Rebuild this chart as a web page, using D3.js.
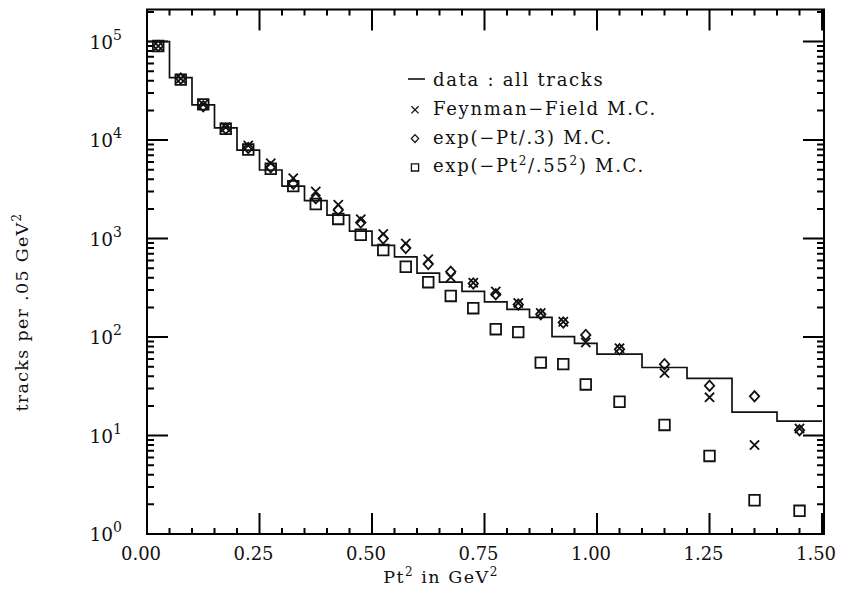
<!DOCTYPE html>
<html lang="en">
<head>
<meta charset="UTF-8">
<title>Pt2 spectrum</title>
<script src="https://d3js.org/d3.v7.min.js"></script>
<style>
body { margin: 0; background: #fff; }
text { font-family: 'DejaVu Serif', serif; fill: #111; }
</style>
</head>
<body>
<svg class="container"></svg>
<script>
// ---- data ----
// bin edges in Pt^2 (GeV^2): .05 wide up to 1.0, .1 wide after that
const binEdges = [0.00, 0.05, 0.10, 0.15, 0.20, 0.25, 0.30, 0.35, 0.40, 0.45, 0.50,
                  0.55, 0.60, 0.65, 0.70, 0.75, 0.80, 0.85, 0.90, 0.95, 1.00,
                  1.10, 1.20, 1.30, 1.40, 1.50];
const binCenters = [0.025, 0.075, 0.125, 0.175, 0.225, 0.275, 0.325, 0.375, 0.425, 0.475,
                    0.525, 0.575, 0.625, 0.675, 0.725, 0.775, 0.825, 0.875, 0.925, 0.975,
                    1.05, 1.15, 1.25, 1.35, 1.45];
// histogram: data, all tracks
const dataTracks = [1.0e5, 4.3e4, 2.27e4, 1.33e4, 7.9e3, 4.96e3, 3.4e3, 2.42e3, 1.73e3, 1190,
                    850, 650, 445, 360, 290, 227, 191, 158, 101, 86,
                    67, 49, 38, 17.3, 14.0];
// x markers
const feynmanMC = [9.0e4, 4.2e4, 2.3e4, 1.35e4, 8.8e3, 5.8e3, 4.1e3, 3.0e3, 2.2e3, 1570,
                   1110, 890, 615, 405, 355, 290, 222, 175, 143, 88,
                   77, 43, 24.4, 8.0, 11.8];
// diamonds
const expPtMC = [9.0e4, 4.2e4, 2.2e4, 1.3e4, 8.3e3, 5.3e3, 3.6e3, 2.56e3, 1.95e3, 1450,
                 1000, 800, 550, 460, 350, 272, 214, 170, 140, 105,
                 75, 53, 32, 25, 11.3];
// squares
const expPt2MC = [9.0e4, 4.1e4, 2.3e4, 1.3e4, 8.0e3, 5.1e3, 3.4e3, 2.24e3, 1.58e3, 1090,
                  764, 517, 360, 261, 196, 120, 112, 55, 53, 33,
                  22, 12.8, 6.2, 2.2, 1.72];

const xTickValues = [0, 0.25, 0.5, 0.75, 1.0, 1.25, 1.5];
const xTickLabels = ['0.00', '0.25', '0.50', '0.75', '1.00', '1.25', '1.50'];
const yTickValues = [1, 10, 100, 1000, 10000, 100000];
const yTickExponents = ['0', '1', '2', '3', '4', '5'];
const legendLabels = ['data : all tracks', 'Feynman\u2212Field M.C.',
                      'exp(\u2212Pt/.3) M.C.', 'exp(\u2212Pt^2/.55^2) M.C.'];

// ---- layout ----
const plotLeft = 147, plotRight = 824, plotTop = 9.5, plotBottom = 534;

const svg = d3.select('svg.container')
    .attr('width', 842)
    .attr('height', 590);

const x = d3.scaleLinear().domain([0, 1.5044]).range([plotLeft, plotRight]);
const y = d3.scaleLog().domain([1, Math.pow(10, 5.325)]).range([plotBottom, plotTop]);

// write "a^b" strings with real superscripts
function richText(sel, str, supSize, shift) {
    let raised = false;
    str.split(/\^(\S)/).forEach((part, i) => {
        if (!part) return;
        let t = sel.append('tspan').text(part);
        if (i % 2) {
            t.attr('font-size', supSize).attr('dy', -shift);
            raised = true;
        } else if (raised) {
            t.attr('dy', shift);
            raised = false;
        }
    });
}

// frame first
svg.append('rect')
    .attr('x', plotLeft).attr('y', plotTop)
    .attr('width', plotRight - plotLeft).attr('height', plotBottom - plotTop)
    .attr('fill', 'none').attr('stroke', '#000').attr('stroke-width', 2);

// ---- ticks, all pointing inward from the frame ----
const xMinor = d3.range(0, 1.5001, 0.05).filter(v => Math.abs(v / 0.25 - Math.round(v / 0.25)) > 1e-6);
const yMinor = y.ticks().filter(v => !yTickValues.includes(v));

function xTickPath(values, len) {
    // bottom edge pointing up, top edge pointing down
    return values.map(d => {
        let px = x(d).toFixed(1);
        return `M${px},${plotBottom}V${plotBottom - len}M${px},${plotTop}V${plotTop + len}`;
    }).join('');
}
function yTickPath(values, len) {
    // left edge pointing right, right edge pointing left
    return values.map(d => {
        let py = y(d).toFixed(1);
        return `M${plotLeft},${py}H${plotLeft + len}M${plotRight},${py}H${plotRight - len}`;
    }).join('');
}
svg.append('path')
    .attr('d', xTickPath(xTickValues, 21) + yTickPath(yTickValues, 21))
    .attr('fill', 'none').attr('stroke', '#000').attr('stroke-width', 2);
svg.append('path')
    .attr('d', xTickPath(xMinor, 6) + yTickPath(yMinor, 7))
    .attr('fill', 'none').attr('stroke', '#000').attr('stroke-width', 2);

// x tick labels
svg.append('g').selectAll('text')
    .data(xTickValues)
    .join('text')
    .attr('x', d => x(d) - 6)
    .attr('y', 560)
    .attr('text-anchor', 'middle')
    .attr('font-size', 18)
    .text((d, i) => xTickLabels[i]);

// y tick labels: 10 with exponent
svg.append('g').selectAll('text')
    .data(yTickValues)
    .join('text')
    .attr('x', 122)
    .attr('y', d => y(d))
    .attr('dy', '0.38em')
    .attr('text-anchor', 'end')
    .attr('font-size', 18.5)
    .each(function(d, i) { richText(d3.select(this), '10^' + yTickExponents[i], 14, 9); });

// ---- histogram (data) ----
const histPoints = dataTracks.map((v, i) => [binEdges[i], v]);
histPoints.push([binEdges[binEdges.length - 1], dataTracks[dataTracks.length - 1]]);
const stepLine = d3.line().x(d => x(d[0])).y(d => y(d[1])).curve(d3.curveStepAfter);
svg.append('path')
    .attr('d', stepLine(histPoints))
    .attr('fill', 'none').attr('stroke', '#111').attr('stroke-width', 1.7);

// ---- MC markers ----
const markerPaths = {
    cross: s => `M${-s},${-s}L${s},${s}M${-s},${s}L${s},${-s}`,
    diamond: s => `M0,${-s * 1.1}L${s},0L0,${s * 1.1}L${-s},0Z`,
    square: s => `M${-s},${-s}h${2 * s}v${2 * s}h${-2 * s}Z`
};
const series = [
    { values: expPt2MC, shape: 'square', size: 5.3 },
    { values: expPtMC, shape: 'diamond', size: 4.7 },
    { values: feynmanMC, shape: 'cross', size: 4.6 }
];
series.forEach(s => {
    svg.append('g').selectAll('path')
        .data(s.values)
        .join('path')
        .attr('transform', (d, i) => `translate(${x(binCenters[i])},${y(d)})`)
        .attr('d', markerPaths[s.shape](s.size))
        .attr('fill', 'none').attr('stroke', '#111').attr('stroke-width', 1.8);
});

// ---- legend ----
const legend = svg.append('g').attr('transform', 'translate(433,86)');
const legendShapes = ['line', 'cross', 'diamond', 'square'];
legendLabels.forEach((label, i) => {
    let row = legend.append('g').attr('transform', `translate(0,${i * 28.8})`);
    if (legendShapes[i] === 'line') {
        row.append('path').attr('d', 'M-25,-7H-8')
            .attr('stroke', '#111').attr('stroke-width', 1.6);
    } else {
        row.append('path')
            .attr('transform', 'translate(-18,-5)')
            .attr('d', markerPaths[legendShapes[i]](3.6))
            .attr('fill', 'none').attr('stroke', '#111').attr('stroke-width', 1.3);
    }
    let t = row.append('text').attr('font-size', 18).attr('letter-spacing', 1.7);
    richText(t, label, 12, 7);
});

// ---- axis titles ----
let xTitle = svg.append('text')
    .attr('x', 441).attr('y', 583)
    .attr('text-anchor', 'middle')
    .attr('font-size', 17.5).attr('letter-spacing', 1.5);
richText(xTitle, 'Pt^2 in GeV^2', 12, 7);

let yTitle = svg.append('text')
    .attr('transform', 'translate(28,312) rotate(-90)')
    .attr('text-anchor', 'middle')
    .attr('font-size', 17.5).attr('letter-spacing', 1.3);
richText(yTitle, 'tracks per .05 GeV^2', 12, 7);
</script>
</body>
</html>
